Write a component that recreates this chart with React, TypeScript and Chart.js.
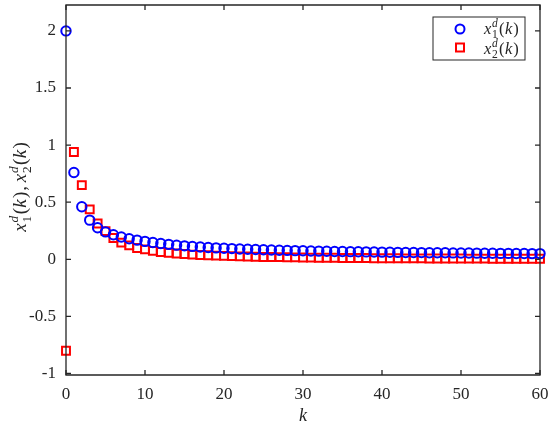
import React, { useEffect, useRef } from "react";
import { Chart, registerables } from "chart.js";

Chart.register(...registerables);

const K: number[] = Array.from({ length: 61 }, (_, i) => i);

const X1: number[] = [
  2.0, 0.76, 0.46, 0.343, 0.277, 0.24, 0.215, 0.195, 0.18, 0.168,
  0.157, 0.147, 0.138, 0.131, 0.124, 0.118, 0.113, 0.108, 0.104, 0.1,
  0.097, 0.094, 0.091, 0.088, 0.086, 0.084, 0.082, 0.08, 0.078, 0.076,
  0.075, 0.073, 0.072, 0.071, 0.069, 0.068, 0.067, 0.066, 0.065, 0.064,
  0.063, 0.062, 0.061, 0.06, 0.06, 0.059, 0.058, 0.057, 0.057, 0.056,
  0.055, 0.055, 0.054, 0.053, 0.053, 0.052, 0.052, 0.051, 0.051, 0.05,
  0.05,
];

const X2: number[] = [
  -0.8, 0.94, 0.65, 0.437, 0.314, 0.247, 0.186, 0.146, 0.122, 0.099,
  0.087, 0.074, 0.064, 0.057, 0.051, 0.046, 0.041, 0.038, 0.035, 0.032,
  0.03, 0.028, 0.026, 0.024, 0.023, 0.021, 0.02, 0.019, 0.018, 0.017,
  0.016, 0.015, 0.014, 0.014, 0.013, 0.012, 0.012, 0.011, 0.011, 0.01,
  0.01, 0.0095, 0.009, 0.0085, 0.008, 0.008, 0.0075, 0.007, 0.007, 0.0068,
  0.0065, 0.0062, 0.006, 0.0058, 0.0056, 0.0054, 0.0052, 0.005, 0.0049, 0.0048,
  0.0047,
];

const X_TICKS: number[] = [0, 10, 20, 30, 40, 50, 60];
const Y_TICKS: number[] = [-1, -0.5, 0, 0.5, 1, 1.5, 2];
const SERIES_SUBS: string[] = ["1", "2"];

const FONT = '"Liberation Serif", "DejaVu Serif", serif';
const AXIS_COLOR = "#262626";
const BLUE = "#0000ff";
const RED = "#ff0000";

function mathParts(ctx: CanvasRenderingContext2D, sub: string, fs: number, draw: boolean, x: number, y: number): number {
  const ss = fs * 0.7;
  let cx = x;
  ctx.textAlign = "left";
  ctx.textBaseline = "alphabetic";
  ctx.font = `italic ${fs}px ${FONT}`;
  if (draw) ctx.fillText("x", cx, y);
  cx += ctx.measureText("x").width + fs * 0.04;
  ctx.font = `italic ${ss}px ${FONT}`;
  if (draw) ctx.fillText("d", cx, y - fs * 0.42);
  const wd = ctx.measureText("d").width;
  ctx.font = `${ss}px ${FONT}`;
  if (draw) ctx.fillText(sub, cx, y + fs * 0.25);
  const ws = ctx.measureText(sub).width;
  cx += Math.max(wd, ws) + fs * 0.08;
  ctx.font = `${fs}px ${FONT}`;
  if (draw) ctx.fillText("(", cx, y);
  cx += ctx.measureText("(").width + fs * 0.02;
  ctx.font = `italic ${fs}px ${FONT}`;
  if (draw) ctx.fillText("k", cx, y);
  cx += ctx.measureText("k").width + fs * 0.06;
  ctx.font = `${fs}px ${FONT}`;
  if (draw) ctx.fillText(")", cx, y);
  cx += ctx.measureText(")").width;
  return cx - x;
}

const framePlugin = {
  id: "matlabFrame",
  afterDraw(chart: any) {
    const ctx: CanvasRenderingContext2D = chart.ctx;
    const { left, right, top, bottom } = chart.chartArea;
    const xs = chart.scales.x;
    const ys = chart.scales.y;
    ctx.save();
    ctx.strokeStyle = AXIS_COLOR;
    ctx.lineWidth = 1.3;
    ctx.beginPath();
    ctx.rect(left, top, right - left, bottom - top);
    ctx.stroke();
    const tl = 5;
    ctx.beginPath();
    X_TICKS.forEach((v) => {
      const px = xs.getPixelForValue(v);
      ctx.moveTo(px, bottom);
      ctx.lineTo(px, bottom - tl);
      ctx.moveTo(px, top);
      ctx.lineTo(px, top + tl);
    });
    Y_TICKS.forEach((v) => {
      const py = ys.getPixelForValue(v);
      ctx.moveTo(left, py);
      ctx.lineTo(left + tl, py);
      ctx.moveTo(right, py);
      ctx.lineTo(right - tl, py);
    });
    ctx.stroke();

    // x label
    ctx.fillStyle = AXIS_COLOR;
    ctx.font = `italic 18px ${FONT}`;
    ctx.textAlign = "center";
    ctx.textBaseline = "alphabetic";
    ctx.fillText("k", (left + right) / 2, 421);

    // y label
    const fs = 19;
    ctx.save();
    ctx.translate(26, 187);
    ctx.rotate(-Math.PI / 2);
    ctx.font = `${fs}px ${FONT}`;
    const comma = ctx.measureText(",").width + fs * 0.25;
    const w1 = mathParts(ctx, SERIES_SUBS[0], fs, false, 0, 0);
    const w2 = mathParts(ctx, SERIES_SUBS[1], fs, false, 0, 0);
    const total = w1 + comma + w2;
    let cx = -total / 2;
    cx += mathParts(ctx, SERIES_SUBS[0], fs, true, cx, 0);
    ctx.font = `${fs}px ${FONT}`;
    ctx.textAlign = "left";
    ctx.fillText(",", cx + 1, 0);
    cx += comma;
    mathParts(ctx, SERIES_SUBS[1], fs, true, cx, 0);
    ctx.restore();

    // legend
    const lx = 433, ly = 17, lw = 92, lh = 43;
    ctx.fillStyle = "#ffffff";
    ctx.fillRect(lx, ly, lw, lh);
    ctx.strokeStyle = AXIS_COLOR;
    ctx.lineWidth = 1;
    ctx.strokeRect(lx, ly, lw, lh);
    ctx.lineWidth = 2;
    ctx.strokeStyle = BLUE;
    ctx.beginPath();
    ctx.arc(460, 29, 4.5, 0, Math.PI * 2);
    ctx.stroke();
    ctx.strokeStyle = RED;
    ctx.strokeRect(456, 43.5, 8, 8);
    ctx.fillStyle = AXIS_COLOR;
    mathParts(ctx, SERIES_SUBS[0], 16.5, true, 484, 34);
    mathParts(ctx, SERIES_SUBS[1], 16.5, true, 484, 54);
    ctx.restore();
  },
};

export default function App() {
  const ref = useRef<HTMLCanvasElement | null>(null);
  useEffect(() => {
    document.body.style.margin = "0";
    if (!ref.current) return;
    const chart = new Chart(ref.current, {
      type: "scatter",
      data: {
        datasets: [
          {
            label: "x1",
            data: K.map((k, i) => ({ x: k, y: X1[i] })),
            pointStyle: "circle",
            radius: 4.7,
            borderColor: BLUE,
            backgroundColor: "rgba(0,0,0,0)",
            borderWidth: 2,
            clip: false as any,
          },
          {
            label: "x2",
            data: K.map((k, i) => ({ x: k, y: X2[i] })),
            pointStyle: "rect",
            radius: 5.6,
            borderColor: RED,
            backgroundColor: "rgba(0,0,0,0)",
            borderWidth: 2,
            clip: false as any,
          },
        ],
      },
      options: {
        animation: false,
        responsive: false,
        devicePixelRatio: 1,
        layout: { autoPadding: false, padding: { left: 0, right: 10, top: 5, bottom: 0 } },
        plugins: { legend: { display: false }, tooltip: { enabled: false } },
        scales: {
          x: {
            type: "linear",
            min: 0,
            max: 60,
            grid: { display: false, drawTicks: false },
            border: { display: false },
            afterBuildTicks: (s: any) => {
              s.ticks = X_TICKS.map((v) => ({ value: v }));
            },
            afterFit: (s: any) => {
              s.height = 50;
              s.paddingLeft = 0;
              s.paddingRight = 0;
            },
            ticks: {
              padding: 9,
              color: AXIS_COLOR,
              font: { family: FONT, size: 17 },
              maxRotation: 0,
              callback: (v: any) => String(v),
            },
          },
          y: {
            type: "linear",
            min: -1.013,
            max: 2.227,
            grid: { display: false, drawTicks: false },
            border: { display: false },
            afterBuildTicks: (s: any) => {
              s.ticks = Y_TICKS.map((v) => ({ value: v }));
            },
            afterFit: (s: any) => {
              s.width = 66;
              s.paddingTop = 0;
              s.paddingBottom = 0;
            },
            ticks: {
              padding: 10,
              color: AXIS_COLOR,
              font: { family: FONT, size: 17 },
              callback: (v: any) => String(v),
            },
          },
        },
      },
      plugins: [framePlugin],
    });
    return () => chart.destroy();
  }, []);
  return (
    <div style={{ position: "absolute", left: 0, top: 0, width: 550, height: 425, background: "#fff" }}>
      <canvas ref={ref} width={550} height={425} style={{ width: 550, height: 425 }} />
    </div>
  );
}
